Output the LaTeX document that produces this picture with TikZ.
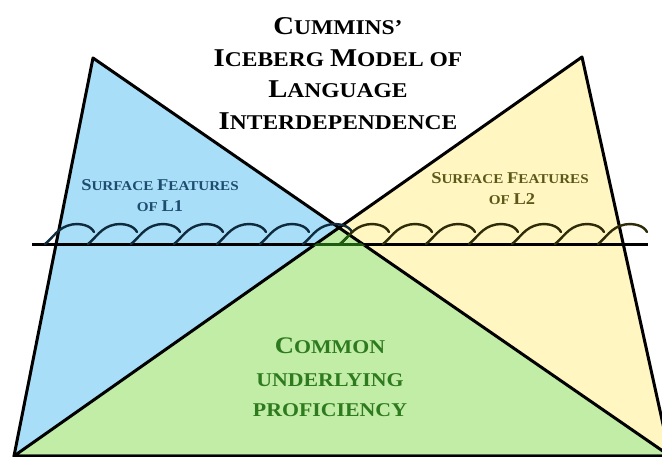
\documentclass[tikz,border=0pt]{standalone}
\usepackage{fontspec}
\setmainfont{Liberation Serif}[FakeStretch=1.12]
\definecolor{blueFill}{HTML}{A8DEF8}
\definecolor{yellowFill}{HTML}{FFF6C2}
\definecolor{greenFill}{HTML}{C2EDA6}
\definecolor{blueText}{HTML}{1D4C6E}
\definecolor{yellowText}{HTML}{5C5818}
\definecolor{greenText}{HTML}{2E7A1E}
\definecolor{waveL}{HTML}{0E2A3C}
\definecolor{waveR}{HTML}{2E2C08}
\definecolor{waveG}{HTML}{1E5A12}
\newcommand\Bg[1]{\scalebox{1.22}{#1}}
\newcommand\wavecurve[1]{({#1},244) .. controls ({#1+8},238) and ({#1+13},227) .. ({#1+27},224.5)
        .. controls ({#1+37},223) and ({#1+46},226) .. ({#1+49},232)}
\begin{document}
\begin{tikzpicture}[x=1pt,y=-1pt,
  outline/.style={line width=3pt,line join=round,draw=black},
  wavepath/.style={line width=2.4pt,line cap=round},
  baseline line/.style={line width=3pt},
  titletext/.style={font=\bfseries\fontsize{21}{21}\selectfont,anchor=base,inner sep=0pt,text=black},
  loneText/.style={font=\bfseries\fontsize{13.5}{13.5}\selectfont,anchor=base,inner sep=0pt,text=blueText},
  ltwoText/.style={font=\bfseries\fontsize{13.5}{13.5}\selectfont,anchor=base,inner sep=0pt,text=yellowText},
  cupText/.style={font=\bfseries\fontsize{19.5}{19.5}\selectfont,anchor=base,inner sep=0pt,text=greenText}]
\useasboundingbox (0,0) rectangle (662,457);
\clip (0,0) rectangle (662,457);
\fill[white] (0,0) rectangle (662,457);
% corners
\coordinate (A) at (93,58);
\coordinate (B) at (582,57);
\coordinate (BL) at (14,456);
\coordinate (BR) at (670,456);
\coordinate (C) at (intersection of A--BR and B--BL);
% fills
\fill[blueFill] (A) -- (BL) -- (BR) -- cycle;
\fill[yellowFill] (B) -- (BR) -- (BL) -- cycle;
\fill[greenFill] (C) -- (BL) -- (BR) -- cycle;
% outlines
\draw[outline] (A) -- (BL) -- (BR) -- cycle;
\draw[outline] (B) -- (BR) -- (BL) -- cycle;
% waterline and waves
\coordinate (hl) at (32,245);
\coordinate (hr) at (648,245);
\draw[baseline line] (hl) -- (hr);
\foreach \x in {45,88,...,303}
  \draw[wavepath,draw=waveL] \wavecurve{\x};
\foreach \x in {340,383,...,598}
  \draw[wavepath,draw=waveR] \wavecurve{\x};
\begin{scope}
  \clip (C) -- (BL) -- (BR) -- cycle;
  \draw[baseline line,draw=waveG] (hl) -- (hr);
  \foreach \x in {303,340}
    \draw[wavepath,draw=waveG] \wavecurve{\x};
\end{scope}
% title
\node[titletext] (t1) at (338,35) {\Bg{C}UMMINS'};
\node[titletext] (t2) at (338,67) {\Bg{I}CEBERG \Bg{M}ODEL OF};
\node[titletext] (t3) at (338,98) {\Bg{L}ANGUAGE};
\node[titletext] (t4) at (338,130) {\Bg{I}NTERDEPENDENCE};
% L1
\node[loneText] (l1a) at (160,191) {\Bg{S}URFACE \Bg{F}EATURES};
\node[loneText] (l1b) at (160,212) {OF \Bg{L1}};
% L2
\node[ltwoText] (l2a) at (510,184) {\Bg{S}URFACE \Bg{F}EATURES};
\node[ltwoText] (l2b) at (512,205) {OF \Bg{L2}};
% common underlying proficiency
\node[cupText] (c1) at (330,353) {\Bg{C}OMMON};
\node[cupText] (c2) at (330,386) {UNDERLYING};
\node[cupText] (c3) at (330,417) {PROFICIENCY};
\end{tikzpicture}
\end{document}
